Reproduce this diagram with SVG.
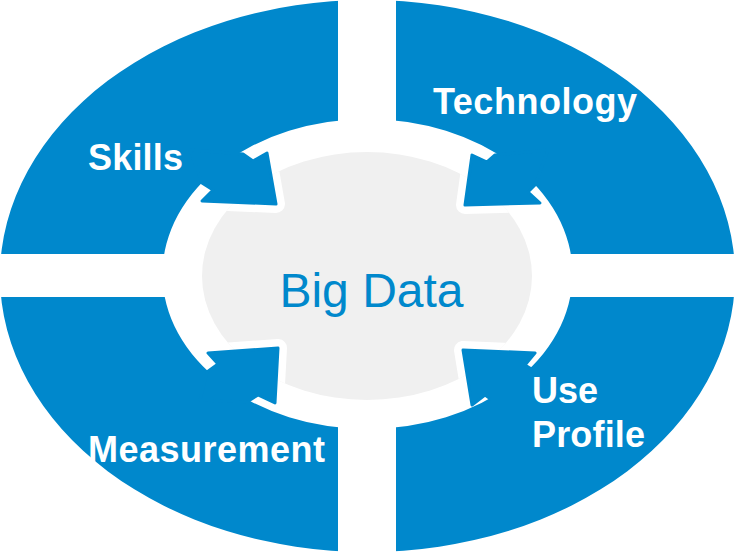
<svg xmlns="http://www.w3.org/2000/svg" width="735" height="552" viewBox="0 0 735 552">
  <defs>
    <style>
      .blue { fill: #0088cc; }
      .arrow { fill: #0088cc; stroke: #0088cc; stroke-width: 3; stroke-linejoin: round; }
      .cut { fill: #ffffff; stroke: #ffffff; stroke-width: 18; stroke-linejoin: round; }
      .gap { fill: #ffffff; }
      .label { font-family: "Liberation Sans", Arial, sans-serif; font-weight: bold; font-size: 36px; fill: #ffffff; }
      .center { font-family: "Liberation Sans", Arial, sans-serif; font-size: 48px; fill: #0088cc; text-anchor: middle; }
    </style>
    <clipPath id="grayClip">
      <ellipse cx="367" cy="276" rx="165" ry="124"/>
    </clipPath>
  </defs>
  <rect width="735" height="552" fill="#ffffff"/>

  <g id="ring">
    <path class="blue" fill-rule="evenodd" d="M0,276 A367.5,276 0 1,0 735,276 A367.5,276 0 1,0 0,276 Z M162.5,274 A205,155 0 1,0 572.5,274 A205,155 0 1,0 162.5,274 Z"/>
    <rect class="gap" x="338" y="0" width="58" height="552"/>
    <rect class="gap" x="0" y="254" width="735" height="43"/>
  </g>

  <g id="big-data">
    <ellipse cx="367" cy="276" rx="165" ry="124" fill="#f0f0f0"/>
    <g clip-path="url(#grayClip)">
      <polygon class="cut" points="276,204 267,153 202,201"/>
      <polygon class="cut" points="465,205 472,155 540,203"/>
      <polygon class="cut" points="278,348 208,353 275,403"/>
      <polygon class="cut" points="463,350 535,353 472,405"/>
    </g>
    <text class="center" x="371.5" y="307">Big Data</text>
  </g>

  <g id="connectors">
    <polygon class="arrow" points="243,154 253,161 267,153 276,204 202,201 213,190 202,183 190,150"/>
    <polygon class="arrow" points="495,155 487,162 472,155 465,205 540,203 528,192 535,185 548,150"/>
    <polygon class="arrow" points="207,372 218,364 208,353 278,348 275,403 258,395 247,402 200,400"/>
    <polygon class="arrow" points="533,370 525,365 535,353 463,350 472,405 485,395 492,400 540,400"/>
  </g>

  <g id="skills">
    <text class="label" x="88" y="170" textLength="95">Skills</text>
  </g>
  <g id="technology">
    <text class="label" x="433" y="114" textLength="204">Technology</text>
  </g>
  <g id="measurement">
    <text class="label" x="88" y="462" textLength="237">Measurement</text>
  </g>
  <g id="use-profile">
    <text class="label" x="532" y="403">Use</text>
    <text class="label" x="532" y="447" textLength="113">Profile</text>
  </g>
</svg>
